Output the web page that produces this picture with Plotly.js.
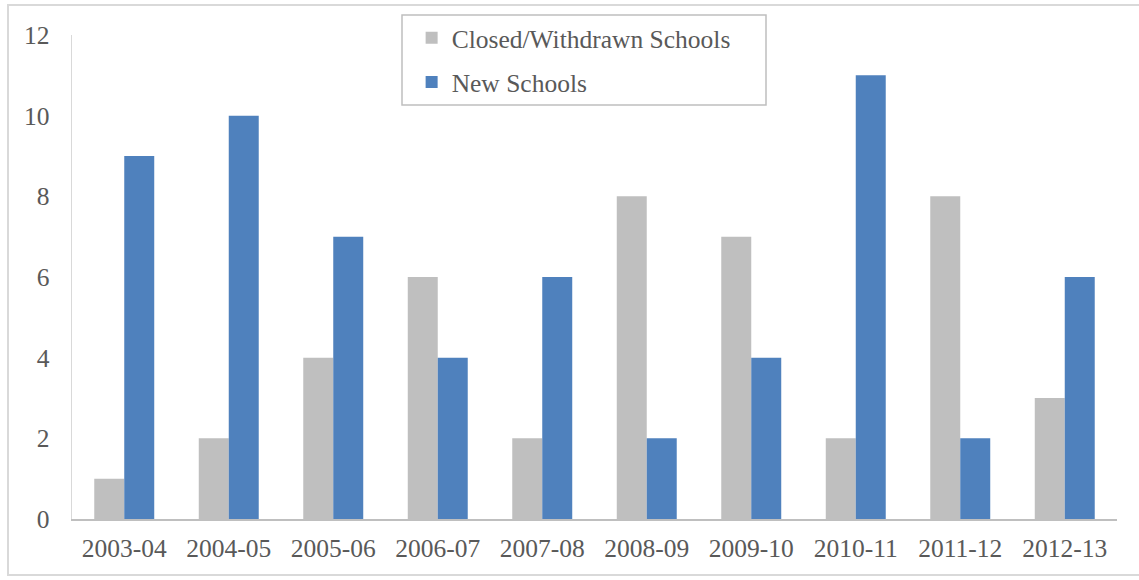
<!DOCTYPE html>
<html>
<head>
<meta charset="utf-8">
<script src="https://cdn.plot.ly/plotly-3.0.1.min.js"></script>
<style>
  html, body { margin: 0; padding: 0; background: #ffffff; }
  #chart { width: 1139px; height: 580px; }
  #frame { position: absolute; left: 7px; top: 4px; width: 1140px; height: 572px;
           border: 2px solid #d9d9d9; box-sizing: border-box; pointer-events: none; }
</style>
</head>
<body>
<div id="chart"></div>
<div id="frame"></div>
<script>
const years = ["2003-04","2004-05","2005-06","2006-07","2007-08","2008-09","2009-10","2010-11","2011-12","2012-13"];
const closedSchools = [1,2,4,6,2,8,7,2,8,3];
const newSchools = [9,10,7,4,6,2,4,11,2,6];
const yTicks = [0,2,4,6,8,10,12];

const fontFam = "'Liberation Serif', 'DejaVu Serif', serif";
const tickColor = "#595959";
const fs = 25.5;

const traces = [
  { type: "bar", name: "Closed/Withdrawn Schools", x: years, y: closedSchools,
    marker: { color: "#bfbfbf" }, legendgroup: "a" },
  { type: "bar", name: "New Schools", x: years, y: newSchools,
    marker: { color: "#4f81bd" }, legendgroup: "b" }
];

const layout = {
  width: 1139, height: 580,
  margin: { l: 72, r: 22, t: 35, b: 61 },
  paper_bgcolor: "#ffffff", plot_bgcolor: "#ffffff",
  barmode: "group", bargap: 0.426, bargroupgap: 0,
  font: { family: fontFam, color: tickColor, size: fs },
  xaxis: {
    type: "category", showgrid: false, zeroline: false,
    showline: true, linecolor: "#bfbfbf", linewidth: 2,
    ticks: "", ticklabelstandoff: 5,
    tickfont: { family: fontFam, size: fs, color: tickColor }
  },
  yaxis: {
    range: [0, 12], tickvals: yTicks, showgrid: false, zeroline: false,
    showline: true, linecolor: "#d9d9d9", linewidth: 1.5,
    ticks: "", ticklabelstandoff: 16,
    tickfont: { family: fontFam, size: fs, color: tickColor }
  },
  showlegend: true,
  legend: {
    x: 0.325, y: 1.042, xanchor: "left", yanchor: "top",
    bgcolor: "rgba(0,0,0,0)", borderwidth: 0,
    traceorder: "grouped", tracegroupgap: 8,
    font: { family: fontFam, size: fs, color: tickColor }
  },
  shapes: [
    { type: "rect", xref: "paper", yref: "paper",
      x0: (402-72)/1045, x1: (766-72)/1045, y0: (519-105)/484, y1: (519-15)/484,
      line: { color: "#bfbfbf", width: 1.5 }, fillcolor: "rgba(0,0,0,0)" }
  ]
};

Plotly.newPlot("chart", traces, layout, { displayModeBar: false, staticPlot: true });
</script>
</body>
</html>
